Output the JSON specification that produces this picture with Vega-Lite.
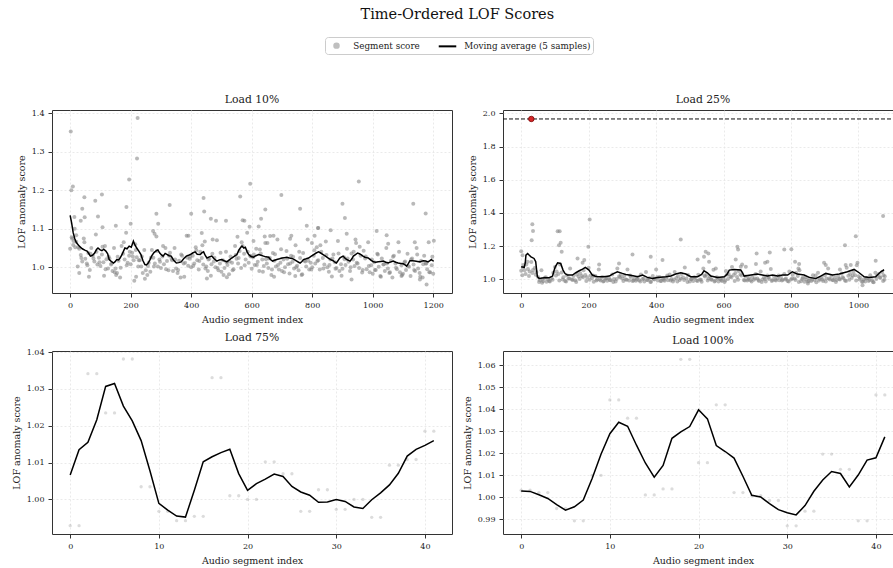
{
  "$schema": "https://vega.github.io/schema/vega-lite/v6.json",
  "padding": {"left": 10, "top": 7, "right": 0, "bottom": 5},
  "title": {"text": "Time-Ordered LOF Scores", "fontSize": 14.5, "font": "DejaVu Serif", "fontWeight": "normal", "anchor": "middle", "offset": 14, "color": "#111"},
  "config": {
    "font": "DejaVu Serif",
    "view": {"stroke": "#333333", "strokeWidth": 1},
    "axis": {"labelFont": "DejaVu Serif", "labelFontSize": 8, "labelColor": "#222", "labelOverlap": false, "tickCount": 20, "titleFont": "DejaVu Serif", "titleFontSize": 9.5, "titleFontWeight": "normal", "titleColor": "#222", "domain": false, "tickColor": "#333", "tickSize": 4, "labelPadding": 4, "titlePadding": 5, "gridColor": "#e4e4e4", "gridDash": [2, 2], "gridWidth": 0.8},
    "title": {"font": "DejaVu Serif", "fontWeight": "normal", "fontSize": 10.8, "color": "#222", "offset": 5},
    "legend": {
      "orient": "none", "legendX": 273, "legendY": -73, "direction": "horizontal",
      "strokeColor": "#cccccc", "fillColor": "white", "padding": 2, "cornerRadius": 3,
      "labelFont": "DejaVu Serif", "labelFontSize": 8.8, "labelColor": "#222", "columnPadding": 14, "labelOffset": 10.25, "symbolOffset": 3
    }
  },
  "datasets": {
    "p10": [
      {"i":0,"v":1.048},{"i":5,"v":1.078},{"i":10,"v":1.058},{"i":15,"v":1.100},{"i":20,"v":1.066},{"i":25,"v":1.002},{"i":30,"v":1.048},{"i":35,"v":1.032},{"i":40,"v":1.015},{"i":45,"v":1.075},
      {"i":50,"v":1.022},{"i":55,"v":1.010},{"i":60,"v":1.037},{"i":65,"v":0.993},{"i":70,"v":1.050},{"i":75,"v":1.030},{"i":80,"v":1.015},{"i":85,"v":1.085},{"i":90,"v":1.007},{"i":95,"v":1.025},
      {"i":100,"v":1.003},{"i":105,"v":1.033},{"i":110,"v":1.013},{"i":115,"v":1.055},{"i":120,"v":1.021},{"i":125,"v":0.997},{"i":130,"v":1.023},{"i":135,"v":1.007},{"i":140,"v":0.990},{"i":145,"v":1.050},
      {"i":150,"v":0.997},{"i":155,"v":0.985},{"i":160,"v":1.017},{"i":165,"v":0.973},{"i":170,"v":1.055},{"i":175,"v":1.035},{"i":180,"v":1.020},{"i":185,"v":1.090},{"i":190,"v":1.012},{"i":195,"v":1.030},
      {"i":200,"v":1.008},{"i":205,"v":1.038},{"i":210,"v":1.018},{"i":215,"v":1.060},{"i":220,"v":1.026},{"i":225,"v":1.002},{"i":230,"v":1.018},{"i":235,"v":1.002},{"i":240,"v":0.985},{"i":245,"v":1.045},
      {"i":250,"v":0.992},{"i":255,"v":0.980},{"i":260,"v":1.012},{"i":265,"v":0.988},{"i":270,"v":1.045},{"i":275,"v":1.025},{"i":280,"v":1.010},{"i":285,"v":1.080},{"i":290,"v":1.002},{"i":295,"v":1.020},
      {"i":300,"v":0.998},{"i":305,"v":1.028},{"i":310,"v":1.008},{"i":315,"v":1.050},{"i":320,"v":1.016},{"i":325,"v":0.992},{"i":330,"v":1.038},{"i":335,"v":1.022},{"i":340,"v":0.990},{"i":345,"v":1.050},
      {"i":350,"v":0.997},{"i":355,"v":0.985},{"i":360,"v":1.017},{"i":365,"v":0.973},{"i":370,"v":1.030},{"i":375,"v":1.010},{"i":380,"v":1.012},{"i":385,"v":1.082},{"i":390,"v":1.004},{"i":395,"v":1.022},
      {"i":400,"v":1.000},{"i":405,"v":1.030},{"i":410,"v":1.010},{"i":415,"v":1.052},{"i":420,"v":1.018},{"i":425,"v":0.994},{"i":430,"v":1.040},{"i":435,"v":1.024},{"i":440,"v":1.007},{"i":445,"v":1.067},
      {"i":450,"v":1.002},{"i":455,"v":0.990},{"i":460,"v":1.022},{"i":465,"v":0.978},{"i":470,"v":1.035},{"i":475,"v":1.015},{"i":480,"v":1.000},{"i":485,"v":1.070},{"i":490,"v":0.992},{"i":495,"v":1.010},
      {"i":500,"v":0.988},{"i":505,"v":1.018},{"i":510,"v":0.998},{"i":515,"v":1.040},{"i":520,"v":1.006},{"i":525,"v":0.982},{"i":530,"v":1.028},{"i":535,"v":1.012},{"i":540,"v":0.995},{"i":545,"v":1.055},
      {"i":550,"v":1.022},{"i":555,"v":1.010},{"i":560,"v":1.042},{"i":565,"v":0.998},{"i":570,"v":1.055},{"i":575,"v":1.035},{"i":580,"v":1.020},{"i":585,"v":1.090},{"i":590,"v":1.012},{"i":595,"v":1.030},
      {"i":600,"v":0.996},{"i":605,"v":1.026},{"i":610,"v":1.006},{"i":615,"v":1.048},{"i":620,"v":1.014},{"i":625,"v":0.990},{"i":630,"v":1.036},{"i":635,"v":1.020},{"i":640,"v":1.003},{"i":645,"v":1.063},
      {"i":650,"v":1.010},{"i":655,"v":0.998},{"i":660,"v":1.024},{"i":665,"v":0.980},{"i":670,"v":1.037},{"i":675,"v":1.017},{"i":680,"v":1.002},{"i":685,"v":1.072},{"i":690,"v":0.994},{"i":695,"v":1.012},
      {"i":700,"v":0.990},{"i":705,"v":1.020},{"i":710,"v":1.000},{"i":715,"v":1.042},{"i":720,"v":1.008},{"i":725,"v":0.984},{"i":730,"v":1.030},{"i":735,"v":1.014},{"i":740,"v":0.997},{"i":745,"v":1.057},
      {"i":750,"v":1.004},{"i":755,"v":0.992},{"i":760,"v":1.024},{"i":765,"v":0.980},{"i":770,"v":1.037},{"i":775,"v":1.017},{"i":780,"v":1.002},{"i":785,"v":1.072},{"i":790,"v":0.994},{"i":795,"v":1.012},
      {"i":800,"v":1.000},{"i":805,"v":1.030},{"i":810,"v":1.010},{"i":815,"v":1.052},{"i":820,"v":1.018},{"i":825,"v":0.994},{"i":830,"v":1.040},{"i":835,"v":1.024},{"i":840,"v":1.007},{"i":845,"v":1.067},
      {"i":850,"v":1.000},{"i":855,"v":0.988},{"i":860,"v":1.020},{"i":865,"v":0.976},{"i":870,"v":1.033},{"i":875,"v":1.013},{"i":880,"v":0.998},{"i":885,"v":1.068},{"i":890,"v":0.990},{"i":895,"v":1.008},
      {"i":900,"v":0.996},{"i":905,"v":1.026},{"i":910,"v":1.006},{"i":915,"v":1.048},{"i":920,"v":1.014},{"i":925,"v":0.990},{"i":930,"v":1.036},{"i":935,"v":1.020},{"i":940,"v":1.003},{"i":945,"v":1.063},
      {"i":950,"v":1.010},{"i":955,"v":0.998},{"i":960,"v":1.030},{"i":965,"v":0.986},{"i":970,"v":1.043},{"i":975,"v":1.023},{"i":980,"v":0.995},{"i":985,"v":1.065},{"i":990,"v":0.987},{"i":995,"v":1.005},
      {"i":1000,"v":0.983},{"i":1005,"v":1.013},{"i":1010,"v":0.993},{"i":1015,"v":1.035},{"i":1020,"v":1.001},{"i":1025,"v":0.977},{"i":1030,"v":1.023},{"i":1035,"v":1.007},{"i":1040,"v":0.990},{"i":1045,"v":1.050},
      {"i":1050,"v":0.997},{"i":1055,"v":0.985},{"i":1060,"v":1.017},{"i":1065,"v":0.973},{"i":1070,"v":1.030},{"i":1075,"v":1.010},{"i":1080,"v":0.995},{"i":1085,"v":1.065},{"i":1090,"v":0.987},{"i":1095,"v":1.005},
      {"i":1100,"v":0.983},{"i":1105,"v":1.013},{"i":1110,"v":0.993},{"i":1115,"v":1.035},{"i":1120,"v":1.001},{"i":1125,"v":0.977},{"i":1130,"v":1.023},{"i":1135,"v":1.007},{"i":1140,"v":0.990},{"i":1145,"v":1.050},
      {"i":1150,"v":0.997},{"i":1155,"v":0.985},{"i":1160,"v":1.017},{"i":1165,"v":0.973},{"i":1170,"v":1.030},{"i":1175,"v":1.010},{"i":1180,"v":0.995},{"i":1185,"v":1.065},{"i":1190,"v":0.987},{"i":1195,"v":1.005},{"i":1200,"v":0.983},
      {"i":7,"v":1.075},{"i":17,"v":1.052},{"i":27,"v":1.052},{"i":37,"v":1.024},{"i":47,"v":1.065},{"i":57,"v":1.005},{"i":67,"v":1.035},{"i":77,"v":1.023},{"i":87,"v":1.040},{"i":97,"v":1.013},
      {"i":107,"v":1.053},{"i":117,"v":0.995},{"i":127,"v":1.028},{"i":137,"v":1.010},{"i":147,"v":0.987},{"i":157,"v":1.027},{"i":167,"v":0.999},{"i":177,"v":1.065},{"i":187,"v":1.005},{"i":197,"v":1.040},
      {"i":207,"v":1.028},{"i":217,"v":1.045},{"i":227,"v":1.018},{"i":237,"v":1.028},{"i":247,"v":0.970},{"i":257,"v":1.003},{"i":267,"v":1.025},{"i":277,"v":1.002},{"i":287,"v":1.042},{"i":297,"v":1.014},
      {"i":307,"v":1.055},{"i":317,"v":0.995},{"i":327,"v":1.030},{"i":337,"v":1.018},{"i":347,"v":1.020},{"i":357,"v":0.993},{"i":367,"v":1.033},{"i":377,"v":0.975},{"i":387,"v":1.025},{"i":397,"v":1.027},
      {"i":407,"v":1.004},{"i":417,"v":1.044},{"i":427,"v":1.016},{"i":437,"v":1.057},{"i":447,"v":0.997},{"i":457,"v":1.020},{"i":467,"v":1.008},{"i":477,"v":1.025},{"i":487,"v":0.998},{"i":497,"v":1.038},
      {"i":507,"v":0.980},{"i":517,"v":1.013},{"i":527,"v":1.015},{"i":537,"v":0.992},{"i":547,"v":1.032},{"i":557,"v":1.024},{"i":567,"v":1.065},{"i":577,"v":1.005},{"i":587,"v":1.040},{"i":597,"v":1.028},
      {"i":607,"v":1.033},{"i":617,"v":1.006},{"i":627,"v":1.046},{"i":637,"v":0.988},{"i":647,"v":1.021},{"i":657,"v":1.023},{"i":667,"v":0.994},{"i":677,"v":1.034},{"i":687,"v":1.006},{"i":697,"v":1.047},
      {"i":707,"v":0.987},{"i":717,"v":1.022},{"i":727,"v":1.010},{"i":737,"v":1.027},{"i":747,"v":1.000},{"i":757,"v":1.040},{"i":767,"v":0.982},{"i":777,"v":1.015},{"i":787,"v":1.017},{"i":797,"v":0.994},
      {"i":807,"v":1.044},{"i":817,"v":1.016},{"i":827,"v":1.057},{"i":837,"v":0.997},{"i":847,"v":1.032},{"i":857,"v":1.006},{"i":867,"v":1.023},{"i":877,"v":0.996},{"i":887,"v":1.036},{"i":897,"v":0.978},
      {"i":907,"v":1.021},{"i":917,"v":1.023},{"i":927,"v":1.000},{"i":937,"v":1.040},{"i":947,"v":1.012},{"i":957,"v":1.053},{"i":967,"v":0.993},{"i":977,"v":1.028},{"i":987,"v":1.003},{"i":997,"v":1.020},
      {"i":1007,"v":0.993},{"i":1017,"v":1.033},{"i":1027,"v":0.975},{"i":1037,"v":1.008},{"i":1047,"v":1.010},{"i":1057,"v":0.987},{"i":1067,"v":1.027},{"i":1077,"v":0.999},{"i":1087,"v":1.040},{"i":1097,"v":0.980},
      {"i":1107,"v":1.015},{"i":1117,"v":1.003},{"i":1127,"v":1.020},{"i":1137,"v":0.993},{"i":1147,"v":1.033},{"i":1157,"v":0.975},{"i":1167,"v":1.008},{"i":1177,"v":1.010},{"i":1187,"v":0.987},{"i":1197,"v":1.027},
      {"i":2,"v":1.353},{"i":223,"v":1.388},{"i":221,"v":1.283},{"i":195,"v":1.228},{"i":4,"v":1.200},{"i":9,"v":1.210},{"i":47,"v":1.182},{"i":105,"v":1.189},{"i":83,"v":1.173},{"i":186,"v":1.157},
      {"i":329,"v":1.162},{"i":285,"v":1.139},{"i":40,"v":1.152},{"i":48,"v":1.130},{"i":92,"v":1.132},{"i":14,"v":1.131},{"i":35,"v":1.121},{"i":107,"v":1.104},{"i":151,"v":1.108},{"i":200,"v":1.113},
      {"i":291,"v":1.113},{"i":274,"v":1.094},{"i":279,"v":1.087},{"i":20,"v":1.083},{"i":11,"v":1.068},{"i":595,"v":1.217},{"i":441,"v":1.180},{"i":562,"v":1.184},{"i":698,"v":1.188},{"i":400,"v":1.139},
      {"i":443,"v":1.145},{"i":760,"v":1.152},{"i":645,"v":1.150},{"i":465,"v":1.126},{"i":482,"v":1.121},{"i":515,"v":1.121},{"i":570,"v":1.122},{"i":576,"v":1.121},{"i":631,"v":1.126},{"i":593,"v":1.105},
      {"i":623,"v":1.106},{"i":782,"v":1.108},{"i":819,"v":1.102},{"i":391,"v":1.082},{"i":435,"v":1.089},{"i":471,"v":1.072},{"i":553,"v":1.079},{"i":643,"v":1.080},{"i":661,"v":1.081},{"i":672,"v":1.082},
      {"i":731,"v":1.082},{"i":727,"v":1.074},{"i":808,"v":1.082},{"i":606,"v":1.068},{"i":652,"v":1.063},{"i":799,"v":1.063},{"i":452,"v":0.971},{"i":518,"v":0.974},{"i":674,"v":0.975},{"i":744,"v":0.977},
      {"i":954,"v":1.223},{"i":900,"v":1.165},{"i":908,"v":1.128},{"i":1134,"v":1.165},{"i":1175,"v":1.140},{"i":914,"v":1.087},{"i":1013,"v":1.094},{"i":1046,"v":1.083},{"i":861,"v":1.096},{"i":1051,"v":1.061},
      {"i":1139,"v":1.065},{"i":1202,"v":1.069},{"i":943,"v":1.072},{"i":820,"v":1.102},{"i":1178,"v":0.955},{"i":1156,"v":0.968},{"i":1095,"v":0.977},{"i":930,"v":0.968},{"i":212,"v":0.965},{"i":218,"v":0.975},
      {"i":30,"v":0.985},{"i":62,"v":0.975},{"i":112,"v":0.978},{"i":152,"v":0.980}
    ],
    "m10": [
      {"i":0,"v":1.135},{"i":5,"v":1.115},{"i":10,"v":1.09},{"i":15,"v":1.075},{"i":20,"v":1.065},{"i":25,"v":1.06},{"i":30,"v":1.055},{"i":40,"v":1.048},{"i":50,"v":1.044},{"i":56,"v":1.042},
      {"i":62,"v":1.035},{"i":67,"v":1.029},{"i":74,"v":1.031},{"i":81,"v":1.037},{"i":87,"v":1.046},{"i":92,"v":1.050},{"i":98,"v":1.046},{"i":105,"v":1.043},{"i":111,"v":1.047},{"i":118,"v":1.042},
      {"i":124,"v":1.035},{"i":129,"v":1.020},{"i":136,"v":1.015},{"i":143,"v":1.011},{"i":148,"v":1.014},{"i":154,"v":1.020},{"i":160,"v":1.019},{"i":165,"v":1.024},{"i":172,"v":1.034},{"i":181,"v":1.050},
      {"i":188,"v":1.048},{"i":195,"v":1.055},{"i":202,"v":1.052},{"i":209,"v":1.068},{"i":214,"v":1.058},{"i":220,"v":1.050},{"i":227,"v":1.042},{"i":234,"v":1.033},{"i":240,"v":1.018},{"i":247,"v":1.007},
      {"i":252,"v":1.006},{"i":258,"v":1.011},{"i":264,"v":1.020},{"i":269,"v":1.029},{"i":277,"v":1.038},{"i":285,"v":1.043},{"i":290,"v":1.045},{"i":296,"v":1.037},{"i":302,"v":1.032},{"i":307,"v":1.029},
      {"i":314,"v":1.036},{"i":321,"v":1.033},{"i":327,"v":1.030},{"i":334,"v":1.029},{"i":342,"v":1.018},{"i":351,"v":1.011},{"i":359,"v":1.012},{"i":367,"v":1.014},{"i":375,"v":1.022},{"i":384,"v":1.029},
      {"i":391,"v":1.031},{"i":397,"v":1.033},{"i":405,"v":1.037},{"i":413,"v":1.040},{"i":420,"v":1.034},{"i":430,"v":1.033},{"i":436,"v":1.038},{"i":441,"v":1.040},{"i":447,"v":1.030},{"i":452,"v":1.024},
      {"i":460,"v":1.027},{"i":468,"v":1.029},{"i":476,"v":1.022},{"i":485,"v":1.016},{"i":493,"v":1.019},{"i":501,"v":1.020},{"i":509,"v":1.017},{"i":518,"v":1.014},{"i":526,"v":1.019},{"i":534,"v":1.024},
      {"i":542,"v":1.028},{"i":551,"v":1.033},{"i":558,"v":1.045},{"i":564,"v":1.052},{"i":568,"v":1.055},{"i":574,"v":1.050},{"i":579,"v":1.052},{"i":585,"v":1.040},{"i":590,"v":1.033},{"i":598,"v":1.028},
      {"i":606,"v":1.026},{"i":614,"v":1.030},{"i":623,"v":1.033},{"i":631,"v":1.031},{"i":639,"v":1.029},{"i":647,"v":1.027},{"i":656,"v":1.026},{"i":662,"v":1.020},{"i":669,"v":1.016},{"i":676,"v":1.018},
      {"i":683,"v":1.020},{"i":692,"v":1.022},{"i":700,"v":1.024},{"i":708,"v":1.025},{"i":716,"v":1.026},{"i":725,"v":1.024},{"i":733,"v":1.023},{"i":741,"v":1.020},{"i":749,"v":1.016},{"i":755,"v":1.013},
      {"i":760,"v":1.011},{"i":766,"v":1.015},{"i":771,"v":1.020},{"i":780,"v":1.022},{"i":788,"v":1.024},{"i":797,"v":1.029},{"i":805,"v":1.033},{"i":813,"v":1.037},{"i":821,"v":1.040},{"i":828,"v":1.037},
      {"i":836,"v":1.033},{"i":845,"v":1.028},{"i":853,"v":1.024},{"i":861,"v":1.020},{"i":869,"v":1.017},{"i":875,"v":1.013},{"i":880,"v":1.011},{"i":886,"v":1.018},{"i":891,"v":1.024},{"i":897,"v":1.027},
      {"i":902,"v":1.029},{"i":908,"v":1.024},{"i":914,"v":1.020},{"i":920,"v":1.018},{"i":925,"v":1.016},{"i":931,"v":1.022},{"i":936,"v":1.029},{"i":943,"v":1.033},{"i":950,"v":1.037},{"i":956,"v":1.035},
      {"i":961,"v":1.033},{"i":968,"v":1.029},{"i":974,"v":1.026},{"i":980,"v":1.025},{"i":985,"v":1.024},{"i":993,"v":1.019},{"i":1002,"v":1.014},{"i":1010,"v":1.013},{"i":1018,"v":1.014},{"i":1027,"v":1.015},
      {"i":1035,"v":1.016},{"i":1043,"v":1.013},{"i":1051,"v":1.011},{"i":1060,"v":1.014},{"i":1068,"v":1.016},{"i":1076,"v":1.013},{"i":1084,"v":1.011},{"i":1093,"v":1.010},{"i":1101,"v":1.009},{"i":1107,"v":1.006},
      {"i":1112,"v":1.003},{"i":1118,"v":1.010},{"i":1123,"v":1.017},{"i":1131,"v":1.017},{"i":1139,"v":1.016},{"i":1148,"v":1.015},{"i":1156,"v":1.014},{"i":1162,"v":1.016},{"i":1167,"v":1.017},{"i":1175,"v":1.016},
      {"i":1183,"v":1.014},{"i":1189,"v":1.017},{"i":1194,"v":1.020},{"i":1198,"v":1.017},{"i":1202,"v":1.016}
    ],
    "p25": [
      {"i":0,"v":1.052},{"i":5,"v":1.072},{"i":10,"v":1.055},{"i":15,"v":1.090},{"i":20,"v":1.062},{"i":25,"v":1.048},{"i":30,"v":1.105},{"i":35,"v":1.057},{"i":40,"v":1.068},{"i":45,"v":1.045},
      {"i":50,"v":1.015},{"i":55,"v":0.995},{"i":60,"v":1.055},{"i":65,"v":0.989},{"i":70,"v":1.010},{"i":75,"v":0.985},{"i":80,"v":1.000},{"i":85,"v":0.987},{"i":90,"v":1.007},{"i":95,"v":1.040},
      {"i":100,"v":1.075},{"i":105,"v":1.047},{"i":110,"v":1.033},{"i":115,"v":1.090},{"i":120,"v":1.042},{"i":125,"v":1.013},{"i":130,"v":0.990},{"i":135,"v":1.025},{"i":140,"v":1.005},{"i":145,"v":1.065},
      {"i":150,"v":0.999},{"i":155,"v":1.020},{"i":160,"v":0.995},{"i":165,"v":1.030},{"i":170,"v":1.017},{"i":175,"v":1.037},{"i":180,"v":1.020},{"i":185,"v":1.055},{"i":190,"v":1.027},{"i":195,"v":1.013},
      {"i":200,"v":1.070},{"i":205,"v":1.022},{"i":210,"v":1.008},{"i":215,"v":0.985},{"i":220,"v":1.020},{"i":225,"v":1.000},{"i":230,"v":1.060},{"i":235,"v":0.994},{"i":240,"v":1.015},{"i":245,"v":0.990},
      {"i":250,"v":1.005},{"i":255,"v":0.992},{"i":260,"v":1.012},{"i":265,"v":0.995},{"i":270,"v":1.030},{"i":275,"v":1.002},{"i":280,"v":0.988},{"i":285,"v":1.065},{"i":290,"v":1.017},{"i":295,"v":1.028},
      {"i":300,"v":1.005},{"i":305,"v":1.020},{"i":310,"v":1.000},{"i":315,"v":1.060},{"i":320,"v":0.994},{"i":325,"v":1.015},{"i":330,"v":0.990},{"i":335,"v":1.005},{"i":340,"v":0.992},{"i":345,"v":1.012},
      {"i":350,"v":0.995},{"i":355,"v":1.030},{"i":360,"v":1.002},{"i":365,"v":0.988},{"i":370,"v":1.045},{"i":375,"v":0.997},{"i":380,"v":1.008},{"i":385,"v":0.985},{"i":390,"v":1.020},{"i":395,"v":1.000},
      {"i":400,"v":1.060},{"i":405,"v":0.994},{"i":410,"v":1.015},{"i":415,"v":0.990},{"i":420,"v":1.005},{"i":425,"v":0.992},{"i":430,"v":1.012},{"i":435,"v":0.995},{"i":440,"v":1.030},{"i":445,"v":1.002},
      {"i":450,"v":0.988},{"i":455,"v":1.045},{"i":460,"v":1.009},{"i":465,"v":1.020},{"i":470,"v":0.997},{"i":475,"v":1.032},{"i":480,"v":1.012},{"i":485,"v":1.072},{"i":490,"v":1.006},{"i":495,"v":1.027},
      {"i":500,"v":0.988},{"i":505,"v":1.003},{"i":510,"v":0.990},{"i":515,"v":1.010},{"i":520,"v":0.993},{"i":525,"v":1.028},{"i":530,"v":1.000},{"i":535,"v":0.986},{"i":540,"v":1.065},{"i":545,"v":1.017},
      {"i":550,"v":1.028},{"i":555,"v":1.005},{"i":560,"v":1.018},{"i":565,"v":0.998},{"i":570,"v":1.058},{"i":575,"v":0.992},{"i":580,"v":1.013},{"i":585,"v":0.988},{"i":590,"v":1.003},{"i":595,"v":0.990},
      {"i":600,"v":1.010},{"i":605,"v":0.993},{"i":610,"v":1.028},{"i":615,"v":1.032},{"i":620,"v":1.018},{"i":625,"v":1.075},{"i":630,"v":1.027},{"i":635,"v":1.038},{"i":640,"v":1.015},{"i":645,"v":1.050},
      {"i":650,"v":1.030},{"i":655,"v":1.090},{"i":660,"v":0.997},{"i":665,"v":1.018},{"i":670,"v":0.993},{"i":675,"v":1.008},{"i":680,"v":0.995},{"i":685,"v":1.015},{"i":690,"v":0.998},{"i":695,"v":1.033},
      {"i":700,"v":1.005},{"i":705,"v":0.991},{"i":710,"v":1.048},{"i":715,"v":1.000},{"i":720,"v":1.011},{"i":725,"v":0.988},{"i":730,"v":1.023},{"i":735,"v":1.003},{"i":740,"v":1.063},{"i":745,"v":0.997},
      {"i":750,"v":1.018},{"i":755,"v":0.993},{"i":760,"v":1.008},{"i":765,"v":0.995},{"i":770,"v":1.015},{"i":775,"v":0.998},{"i":780,"v":1.033},{"i":785,"v":1.005},{"i":790,"v":0.991},{"i":795,"v":1.048},
      {"i":800,"v":1.000},{"i":805,"v":1.028},{"i":810,"v":1.005},{"i":815,"v":1.040},{"i":820,"v":1.020},{"i":825,"v":1.055},{"i":830,"v":0.989},{"i":835,"v":1.010},{"i":840,"v":0.985},{"i":845,"v":1.000},
      {"i":850,"v":0.987},{"i":855,"v":1.007},{"i":860,"v":0.990},{"i":865,"v":1.025},{"i":870,"v":0.997},{"i":875,"v":0.983},{"i":880,"v":1.040},{"i":885,"v":1.002},{"i":890,"v":1.013},{"i":895,"v":0.990},
      {"i":900,"v":1.025},{"i":905,"v":1.005},{"i":910,"v":1.065},{"i":915,"v":0.999},{"i":920,"v":1.020},{"i":925,"v":0.995},{"i":930,"v":1.010},{"i":935,"v":0.997},{"i":940,"v":1.017},{"i":945,"v":1.000},
      {"i":950,"v":1.035},{"i":955,"v":1.007},{"i":960,"v":0.993},{"i":965,"v":1.070},{"i":970,"v":1.022},{"i":975,"v":1.033},{"i":980,"v":1.010},{"i":985,"v":1.045},{"i":990,"v":1.025},{"i":995,"v":1.085},
      {"i":1000,"v":1.019},{"i":1005,"v":1.010},{"i":1010,"v":0.985},{"i":1015,"v":1.000},{"i":1020,"v":0.987},{"i":1025,"v":1.007},{"i":1030,"v":0.990},{"i":1035,"v":1.025},{"i":1040,"v":0.997},{"i":1045,"v":0.983},
      {"i":1050,"v":1.040},{"i":1055,"v":1.022},{"i":1060,"v":1.033},{"i":1065,"v":1.010},{"i":1070,"v":1.045},{"i":1074,"v":1.025},{"i":1078,"v":1.019},
      {"i":3,"v":1.025},{"i":13,"v":1.032},{"i":23,"v":1.020},{"i":33,"v":1.038},{"i":43,"v":1.028},{"i":53,"v":0.984},{"i":63,"v":1.002},{"i":73,"v":1.013},{"i":83,"v":0.991},{"i":93,"v":0.998},
      {"i":103,"v":1.023},{"i":113,"v":0.993},{"i":123,"v":1.000},{"i":133,"v":0.988},{"i":143,"v":1.006},{"i":153,"v":0.996},{"i":163,"v":0.984},{"i":173,"v":1.002},{"i":183,"v":1.013},{"i":193,"v":0.991},
      {"i":203,"v":0.998},{"i":213,"v":1.023},{"i":223,"v":0.993},{"i":233,"v":1.000},{"i":243,"v":0.988},{"i":253,"v":1.006},{"i":263,"v":0.996},{"i":273,"v":0.984},{"i":283,"v":1.002},{"i":293,"v":1.013},
      {"i":303,"v":0.991},{"i":313,"v":0.998},{"i":323,"v":1.023},{"i":333,"v":0.993},{"i":343,"v":1.000},{"i":353,"v":0.988},{"i":363,"v":1.006},{"i":373,"v":0.996},{"i":383,"v":0.984},{"i":393,"v":1.002},
      {"i":403,"v":1.013},{"i":413,"v":0.991},{"i":423,"v":0.998},{"i":433,"v":1.023},{"i":443,"v":0.993},{"i":453,"v":1.000},{"i":463,"v":0.988},{"i":473,"v":1.006},{"i":483,"v":0.996},{"i":493,"v":0.984},
      {"i":503,"v":1.002},{"i":513,"v":1.013},{"i":523,"v":0.991},{"i":533,"v":0.998},{"i":543,"v":1.023},{"i":553,"v":0.993},{"i":563,"v":1.000},{"i":573,"v":0.988},{"i":583,"v":1.006},{"i":593,"v":0.996},
      {"i":603,"v":0.984},{"i":613,"v":1.002},{"i":623,"v":1.013},{"i":633,"v":0.991},{"i":643,"v":0.998},{"i":653,"v":1.023},{"i":663,"v":0.993},{"i":673,"v":1.000},{"i":683,"v":0.988},{"i":693,"v":1.006},
      {"i":703,"v":0.996},{"i":713,"v":0.984},{"i":723,"v":1.002},{"i":733,"v":1.013},{"i":743,"v":0.991},{"i":753,"v":0.998},{"i":763,"v":1.023},{"i":773,"v":0.993},{"i":783,"v":1.000},{"i":793,"v":0.988},
      {"i":803,"v":1.006},{"i":813,"v":0.996},{"i":823,"v":0.984},{"i":833,"v":1.002},{"i":843,"v":1.013},{"i":853,"v":0.991},{"i":863,"v":0.998},{"i":873,"v":1.023},{"i":883,"v":0.993},{"i":893,"v":1.000},
      {"i":903,"v":0.988},{"i":913,"v":1.006},{"i":923,"v":0.996},{"i":933,"v":0.984},{"i":943,"v":1.002},{"i":953,"v":1.013},{"i":963,"v":0.991},{"i":973,"v":0.998},{"i":983,"v":1.023},{"i":993,"v":0.993},
      {"i":1003,"v":1.000},{"i":1013,"v":0.988},{"i":1023,"v":1.006},{"i":1033,"v":0.996},{"i":1043,"v":0.984},{"i":1053,"v":1.002},{"i":1063,"v":1.013},{"i":1073,"v":0.991},{"i":1077,"v":0.998},
      {"i":1012,"v":0.965},{"i":850,"v":0.975},{"i":62,"v":0.980},
      {"i":33,"v":1.332},{"i":35,"v":1.292},{"i":31,"v":1.236},{"i":108,"v":1.290},{"i":114,"v":1.290},{"i":117,"v":1.220},{"i":112,"v":1.206},{"i":120,"v":1.166},{"i":203,"v":1.360},{"i":199,"v":1.196},
      {"i":0,"v":1.170},{"i":4,"v":1.146},{"i":6,"v":1.086},{"i":19,"v":1.106},{"i":231,"v":1.090},{"i":290,"v":1.096},{"i":330,"v":1.150},{"i":167,"v":1.126},{"i":187,"v":1.116},{"i":182,"v":1.100},
      {"i":473,"v":1.240},{"i":384,"v":1.136},{"i":419,"v":1.116},{"i":641,"v":1.196},{"i":643,"v":1.180},{"i":523,"v":1.120},{"i":547,"v":1.166},{"i":555,"v":1.156},{"i":542,"v":1.136},{"i":557,"v":1.106},
      {"i":636,"v":1.120},{"i":651,"v":1.076},{"i":666,"v":1.076},{"i":698,"v":1.156},{"i":696,"v":1.092},{"i":607,"v":1.050},{"i":577,"v":1.066},{"i":1073,"v":1.382},{"i":992,"v":1.260},{"i":960,"v":1.206},
      {"i":737,"v":1.162},{"i":780,"v":1.180},{"i":801,"v":1.182},{"i":723,"v":1.100},{"i":730,"v":1.106},{"i":812,"v":1.106},{"i":824,"v":1.092},{"i":822,"v":1.066},{"i":898,"v":1.100},{"i":903,"v":1.086},
      {"i":1051,"v":1.112},{"i":977,"v":1.086},{"i":997,"v":1.100},{"i":962,"v":1.086},{"i":945,"v":1.060}
    ],
    "m25": [
      {"i":0,"v":1.076},{"i":9,"v":1.072},{"i":12,"v":1.10},{"i":14,"v":1.146},{"i":19,"v":1.156},{"i":24,"v":1.145},{"i":29,"v":1.136},{"i":38,"v":1.126},{"i":43,"v":1.106},{"i":46,"v":1.05},
      {"i":48,"v":1.016},{"i":53,"v":1.006},{"i":68,"v":1.010},{"i":83,"v":1.010},{"i":93,"v":1.020},{"i":97,"v":1.05},{"i":101,"v":1.076},{"i":108,"v":1.100},{"i":117,"v":1.096},{"i":124,"v":1.056},
      {"i":130,"v":1.035},{"i":137,"v":1.026},{"i":152,"v":1.026},{"i":162,"v":1.04},{"i":172,"v":1.052},{"i":182,"v":1.062},{"i":190,"v":1.072},{"i":201,"v":1.056},{"i":211,"v":1.026},{"i":218,"v":1.02},
      {"i":226,"v":1.016},{"i":241,"v":1.016},{"i":251,"v":1.018},{"i":261,"v":1.020},{"i":272,"v":1.033},{"i":285,"v":1.046},{"i":300,"v":1.036},{"i":310,"v":1.03},{"i":320,"v":1.026},{"i":335,"v":1.020},
      {"i":345,"v":1.016},{"i":360,"v":1.026},{"i":374,"v":1.012},{"i":389,"v":1.006},{"i":404,"v":1.012},{"i":429,"v":1.016},{"i":444,"v":1.020},{"i":458,"v":1.032},{"i":473,"v":1.040},{"i":488,"v":1.032},
      {"i":503,"v":1.016},{"i":523,"v":1.016},{"i":535,"v":1.03},{"i":542,"v":1.052},{"i":552,"v":1.040},{"i":562,"v":1.020},{"i":582,"v":1.012},{"i":602,"v":1.016},{"i":610,"v":1.03},{"i":617,"v":1.056},
      {"i":631,"v":1.060},{"i":651,"v":1.056},{"i":656,"v":1.04},{"i":661,"v":1.020},{"i":681,"v":1.026},{"i":700,"v":1.032},{"i":715,"v":1.026},{"i":730,"v":1.020},{"i":745,"v":1.026},{"i":760,"v":1.020},
      {"i":775,"v":1.026},{"i":790,"v":1.026},{"i":804,"v":1.046},{"i":819,"v":1.032},{"i":839,"v":1.026},{"i":854,"v":1.012},{"i":874,"v":1.006},{"i":888,"v":1.020},{"i":903,"v":1.036},{"i":923,"v":1.026},
      {"i":943,"v":1.032},{"i":967,"v":1.046},{"i":987,"v":1.060},{"i":1002,"v":1.040},{"i":1017,"v":1.016},{"i":1032,"v":1.012},{"i":1051,"v":1.016},{"i":1056,"v":1.026},{"i":1066,"v":1.046},{"i":1076,"v":1.058}
    ],
    "p75": [
      {"i":0,"v":0.99286},{"i":1,"v":0.99286},{"i":2,"v":1.03415},{"i":3,"v":1.03415},{"i":4,"v":1.02349},{"i":5,"v":1.02349},{"i":6,"v":1.03812},{"i":7,"v":1.03812},{"i":8,"v":1.00343},{"i":9,"v":1.00343},
      {"i":10,"v":0.99675},{"i":11,"v":0.99675},{"i":12,"v":0.99422},{"i":13,"v":0.99422},{"i":14,"v":0.99539},{"i":15,"v":0.99539},{"i":16,"v":1.03306},{"i":17,"v":1.03306},{"i":18,"v":1.00099},{"i":19,"v":1.00099},
      {"i":20,"v":1.0},{"i":21,"v":1.0},{"i":22,"v":1.01021},{"i":23,"v":1.01021},{"i":24,"v":1.00696},{"i":25,"v":1.00696},{"i":26,"v":0.99675},{"i":27,"v":0.99675},{"i":28,"v":1.00262},{"i":29,"v":1.00262},
      {"i":30,"v":0.99729},{"i":31,"v":0.99729},{"i":32,"v":1.0},{"i":33,"v":1.0},{"i":34,"v":0.99512},{"i":35,"v":0.99512},{"i":36,"v":1.0093},{"i":37,"v":1.0093},{"i":38,"v":1.01084},{"i":39,"v":1.01084},
      {"i":40,"v":1.01852},{"i":41,"v":1.01852}
    ],
    "m75": [
      {"i":0,"v":1.00662},{"i":1,"v":1.0135},{"i":2,"v":1.0155},{"i":3,"v":1.02163},{"i":4,"v":1.03068},{"i":5,"v":1.03147},{"i":6,"v":1.02533},{"i":7,"v":1.02132},{"i":8,"v":1.01597},{"i":9,"v":1.0077},
      {"i":10,"v":0.99892},{"i":11,"v":0.99707},{"i":12,"v":0.99547},{"i":13,"v":0.99519},{"i":14,"v":1.00246},{"i":15,"v":1.01022},{"i":16,"v":1.01158},{"i":17,"v":1.0127},{"i":18,"v":1.01362},{"i":19,"v":1.00701},
      {"i":20,"v":1.00244},{"i":21,"v":1.00428},{"i":22,"v":1.00548},{"i":23,"v":1.00687},{"i":24,"v":1.00622},{"i":25,"v":1.00353},{"i":26,"v":1.00201},{"i":27,"v":1.00114},{"i":28,"v":0.99921},{"i":29,"v":0.99931},
      {"i":30,"v":0.99996},{"i":31,"v":0.99944},{"i":32,"v":0.99794},{"i":33,"v":0.99751},{"i":34,"v":0.99991},{"i":35,"v":1.00177},{"i":36,"v":1.00394},{"i":37,"v":1.00708},{"i":38,"v":1.01176},{"i":39,"v":1.0136},
      {"i":40,"v":1.01468},{"i":41,"v":1.01596}
    ],
    "p100": [
      {"i":0,"v":1.00327},{"i":1,"v":1.00327},{"i":2,"v":1.00222},{"i":3,"v":1.00222},{"i":4,"v":0.99498},{"i":5,"v":0.99498},{"i":6,"v":0.9894},{"i":7,"v":0.9894},{"i":8,"v":1.01006},{"i":9,"v":1.01006},
      {"i":10,"v":1.0443},{"i":11,"v":1.0443},{"i":12,"v":1.036},{"i":13,"v":1.036},{"i":14,"v":1.00116},{"i":15,"v":1.00116},{"i":16,"v":1.00388},{"i":17,"v":1.00388},{"i":18,"v":1.06272},{"i":19,"v":1.06272},
      {"i":20,"v":1.01579},{"i":21,"v":1.01579},{"i":22,"v":1.04204},{"i":23,"v":1.04204},{"i":24,"v":1.00222},{"i":25,"v":1.00222},{"i":26,"v":1.00086},{"i":27,"v":1.00086},{"i":28,"v":0.9986},{"i":29,"v":0.9986},
      {"i":30,"v":0.98713},{"i":31,"v":0.98713},{"i":32,"v":0.99377},{"i":33,"v":0.99377},{"i":34,"v":1.01971},{"i":35,"v":1.01971},{"i":36,"v":1.01277},{"i":37,"v":1.01277},{"i":38,"v":0.9894},{"i":39,"v":0.9894},
      {"i":40,"v":1.04657},{"i":41,"v":1.04657}
    ],
    "m100": [
      {"i":0,"v":1.00292},{"i":1,"v":1.00275},{"i":2,"v":1.00119},{"i":3,"v":0.99953},{"i":4,"v":0.99676},{"i":5,"v":0.9942},{"i":6,"v":0.99576},{"i":7,"v":0.99878},{"i":8,"v":1.00864},{"i":9,"v":1.01962},
      {"i":10,"v":1.02894},{"i":11,"v":1.03413},{"i":12,"v":1.03235},{"i":13,"v":1.02372},{"i":14,"v":1.01564},{"i":15,"v":1.00922},{"i":16,"v":1.01456},{"i":17,"v":1.02687},{"i":18,"v":1.0298},{"i":19,"v":1.03218},
      {"i":20,"v":1.03981},{"i":21,"v":1.03568},{"i":22,"v":1.02358},{"i":23,"v":1.02086},{"i":24,"v":1.01788},{"i":25,"v":1.00964},{"i":26,"v":1.00095},{"i":27,"v":1.00023},{"i":28,"v":0.99721},{"i":29,"v":0.99446},
      {"i":30,"v":0.99305},{"i":31,"v":0.99208},{"i":32,"v":0.9963},{"i":33,"v":1.00282},{"i":34,"v":1.00795},{"i":35,"v":1.01175},{"i":36,"v":1.01087},{"i":37,"v":1.00481},{"i":38,"v":1.01018},{"i":39,"v":1.01694},
      {"i":40,"v":1.01799},{"i":41,"v":1.02751}
    ],
    "thr25": [{"t":1.966}],
    "anom25": [{"i":30,"v":1.966}]
  },
  "concat": [
    {
      "title": "Load 10%",
      "width": 400, "height": 183,
      "layer": [
        {"data": {"name": "p10"}, "mark": {"type": "circle", "size": 16, "fillOpacity": 0.55},
         "encoding": {
           "x": {"field": "i", "type": "quantitative", "scale": {"domain": [-60, 1262], "nice": false, "zero": false}, "axis": {"title": "Audio segment index", "values": [0,200,400,600,800,1000,1200], "format": "d", "tickCount": 20, "labelOverlap": false}},
           "y": {"field": "v", "type": "quantitative", "scale": {"domain": [0.933, 1.409], "nice": false, "zero": false}, "axis": {"title": "LOF anomaly score", "values": [1.0,1.1,1.2,1.3,1.4], "format": ".1f", "tickCount": 20, "labelOverlap": false}},
           "color": {"datum": "Segment score", "type": "nominal", "scale": {"domain": ["Segment score", "Moving average (5 samples)"], "range": ["#808080", "#000000"]},
             "legend": {"title": null,
               "symbolType": {"expr": "datum.value === 'Segment score' ? 'M0.41,0A0.41,0.41,0,1,1,-0.41,0A0.41,0.41,0,1,1,0.41,0Z' : 'M-1.6,0L1.6,0'"},
               "symbolSize": 120,
               "symbolStrokeWidth": 2,
               "symbolOpacity": {"expr": "datum.value === 'Segment score' ? 0.5 : 1"},
               "symbolStrokeColor": {"expr": "datum.value === 'Segment score' ? 'transparent' : '#000000'"},
               "symbolFillColor": {"expr": "datum.value === 'Segment score' ? '#808080' : 'transparent'"}}}
         }},
        {"data": {"name": "m10"}, "mark": {"type": "line", "strokeWidth": 1.5},
         "encoding": {
           "x": {"field": "i", "type": "quantitative"},
           "y": {"field": "v", "type": "quantitative"},
           "color": {"datum": "Moving average (5 samples)", "type": "nominal"}
         }}
      ]
    },
    {
      "title": "Load 25%",
      "width": 400, "height": 183,
      "layer": [
        {"data": {"name": "p25"}, "mark": {"type": "circle", "size": 16, "fillOpacity": 0.55},
         "encoding": {
           "x": {"field": "i", "type": "quantitative", "scale": {"domain": [-54, 1132], "nice": false, "zero": false}, "axis": {"title": "Audio segment index", "values": [0,200,400,600,800,1000], "format": "d", "tickCount": 20, "labelOverlap": false}},
           "y": {"field": "v", "type": "quantitative", "scale": {"domain": [0.918, 2.02], "nice": false, "zero": false}, "axis": {"title": "LOF anomaly score", "values": [1.0,1.2,1.4,1.6,1.8,2.0], "format": ".1f", "tickCount": 20, "labelOverlap": false}},
           "color": {"datum": "Segment score", "type": "nominal"}
         }},
        {"data": {"name": "m25"}, "mark": {"type": "line", "strokeWidth": 1.5},
         "encoding": {
           "x": {"field": "i", "type": "quantitative"},
           "y": {"field": "v", "type": "quantitative"},
           "color": {"datum": "Moving average (5 samples)", "type": "nominal"}
         }},
        {"data": {"name": "thr25"}, "mark": {"type": "rule", "strokeDash": [4, 2], "color": "#111111", "strokeWidth": 1},
         "encoding": {"y": {"field": "t", "type": "quantitative"}}},
        {"data": {"name": "anom25"}, "mark": {"type": "circle", "size": 30, "color": "#d62728", "stroke": "#7a0000", "strokeWidth": 0.8, "opacity": 1},
         "encoding": {
           "x": {"field": "i", "type": "quantitative"},
           "y": {"field": "v", "type": "quantitative"}
         }}
      ]
    },
    {
      "title": "Load 75%",
      "width": 400, "height": 183,
      "layer": [
        {"data": {"name": "p75"}, "mark": {"type": "circle", "size": 11, "fillOpacity": 0.28},
         "encoding": {
           "x": {"field": "i", "type": "quantitative", "scale": {"domain": [-2.05, 43.05], "nice": false, "zero": false}, "axis": {"title": "Audio segment index", "values": [0,10,20,30,40], "format": "d", "tickCount": 20, "labelOverlap": false}},
           "y": {"field": "v", "type": "quantitative", "scale": {"domain": [0.9906, 1.0403], "nice": false, "zero": false}, "axis": {"title": "LOF anomaly score", "values": [1.0,1.01,1.02,1.03,1.04], "format": ".2f", "tickCount": 20, "labelOverlap": false}},
           "color": {"datum": "Segment score", "type": "nominal"}
         }},
        {"data": {"name": "m75"}, "mark": {"type": "line", "strokeWidth": 1.5},
         "encoding": {
           "x": {"field": "i", "type": "quantitative"},
           "y": {"field": "v", "type": "quantitative"},
           "color": {"datum": "Moving average (5 samples)", "type": "nominal"}
         }}
      ]
    },
    {
      "title": "Load 100%",
      "width": 400, "height": 183,
      "layer": [
        {"data": {"name": "p100"}, "mark": {"type": "circle", "size": 11, "fillOpacity": 0.28},
         "encoding": {
           "x": {"field": "i", "type": "quantitative", "scale": {"domain": [-2.05, 43.05], "nice": false, "zero": false}, "axis": {"title": "Audio segment index", "values": [0,10,20,30,40], "format": "d", "tickCount": 20, "labelOverlap": false}},
           "y": {"field": "v", "type": "quantitative", "scale": {"domain": [0.9834, 1.0665], "nice": false, "zero": false}, "axis": {"title": "LOF anomaly score", "values": [0.99,1.0,1.01,1.02,1.03,1.04,1.05,1.06], "format": ".2f", "tickCount": 20, "labelOverlap": false}},
           "color": {"datum": "Segment score", "type": "nominal"}
         }},
        {"data": {"name": "m100"}, "mark": {"type": "line", "strokeWidth": 1.5},
         "encoding": {
           "x": {"field": "i", "type": "quantitative"},
           "y": {"field": "v", "type": "quantitative"},
           "color": {"datum": "Moving average (5 samples)", "type": "nominal"}
         }}
      ]
    }
  ],
  "columns": 2,
  "spacing": {"row": 7, "column": 8},
  "resolve": {"scale": {"x": "independent", "y": "independent", "color": "shared"}}
}
